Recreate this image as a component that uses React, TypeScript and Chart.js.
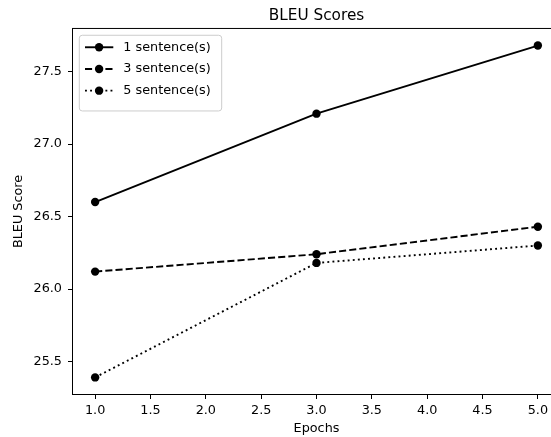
import React, { useEffect, useRef } from "react";
import { Chart, registerables } from "chart.js";

Chart.register(...registerables);

// ---- data ----
const epochs = [1, 3, 5];
const seriesLabels = ["1 sentence(s)", "3 sentence(s)", "5 sentence(s)"];
const oneSentence = [26.6, 27.21, 27.68];
const threeSentences = [26.12, 26.24, 26.43];
const fiveSentences = [25.39, 26.18, 26.3];
const xTicks = [1.0, 1.5, 2.0, 2.5, 3.0, 3.5, 4.0, 4.5, 5.0];
const yTicks = [25.5, 26.0, 26.5, 27.0, 27.5];
const chartTitle = "BLEU Scores";
const xTitle = "Epochs";
const yTitle = "BLEU Score";

const FONT = "DejaVu Sans";
const TICK_SIZE = 12.8;

const allSeries = [oneSentence, threeSentences, fiveSentences];
const dashes: number[][] = [[], [7.1, 3.1], [1.9, 3.2]];

// matplotlib-like 5% margins
const xMinD = Math.min(...epochs), xMaxD = Math.max(...epochs);
const allY = allSeries.flat();
const yMinD = Math.min(...allY), yMaxD = Math.max(...allY);
const xPad = (xMaxD - xMinD) * 0.05;
const yPad = (yMaxD - yMinD) * 0.05;

const framePlugin = {
  id: "mplFrame",
  afterDatasetsDraw(chart: any) {
    const { ctx, chartArea } = chart;
    ctx.save();
    ctx.strokeStyle = "#000";
    ctx.lineWidth = 1;
    ctx.strokeRect(
      chartArea.left - 0.5,
      chartArea.top - 0.5,
      chartArea.right - chartArea.left + 1,
      chartArea.bottom - chartArea.top + 1
    );
    ctx.restore();
  },
};

const legendPlugin = {
  id: "mplLegend",
  afterDraw(chart: any) {
    const { ctx, chartArea } = chart;
    const x0 = chartArea.left + 6.3;
    const y0 = chartArea.top + 6.3;
    const w = 142.4;
    const h = 75.7;
    ctx.save();
    ctx.beginPath();
    ctx.roundRect(x0, y0, w, h, 3);
    ctx.fillStyle = "rgba(255,255,255,0.8)";
    ctx.fill();
    ctx.strokeStyle = "#cccccc";
    ctx.lineWidth = 1;
    ctx.stroke();
    chart.data.datasets.forEach((ds: any, i: number) => {
      const cy = y0 + 12 + i * 21.7;
      ctx.beginPath();
      ctx.setLineDash(ds.borderDash || []);
      ctx.lineCap = "butt";
      ctx.strokeStyle = ds.borderColor;
      ctx.lineWidth = ds.borderWidth;
      ctx.moveTo(x0 + 5.7, cy);
      ctx.lineTo(x0 + 34, cy);
      ctx.stroke();
      ctx.setLineDash([]);
      ctx.beginPath();
      ctx.arc(x0 + 19.8, cy, ds.pointRadius, 0, Math.PI * 2);
      ctx.fillStyle = ds.pointBackgroundColor;
      ctx.fill();
      ctx.fillStyle = "#000";
      ctx.font = `${TICK_SIZE}px '${FONT}'`;
      ctx.textBaseline = "middle";
      ctx.textAlign = "left";
      ctx.fillText(ds.label, x0 + 44, cy);
    });
    ctx.restore();
  },
};

export default function App() {
  const ref = useRef<HTMLCanvasElement | null>(null);

  useEffect(() => {
    if (!ref.current) return;
    Chart.defaults.font.family = FONT;
    const datasets = allSeries.map((vals, i) => ({
      label: seriesLabels[i],
      data: epochs.map((x, j) => ({ x, y: vals[j] })),
      borderColor: "#000",
      backgroundColor: "#000",
      borderWidth: 1.9,
      borderDash: dashes[i],
      borderCapStyle: "butt" as const,
      pointRadius: 4.2,
      pointBackgroundColor: "#000",
      pointBorderWidth: 0,
      pointHoverRadius: 4.2,
      tension: 0,
      fill: false,
    }));

    const chart = new Chart(ref.current, {
      type: "line",
      data: { datasets },
      plugins: [framePlugin, legendPlugin],
      options: {
        responsive: false,
        maintainAspectRatio: false,
        devicePixelRatio: 1,
        animation: false,
        layout: { padding: { left: 0, right: 40, top: 0, bottom: 0 } },
        plugins: {
          legend: { display: false },
          tooltip: { enabled: false },
          title: {
            display: true,
            text: chartTitle,
            fullSize: false,
            color: "#000",
            font: { family: FONT, size: 15.3, weight: "normal" },
            padding: { top: 6.5, bottom: 4.1 },
          },
        },
        scales: {
          x: {
            type: "linear",
            bounds: "data",
            min: xMinD - xPad,
            max: xMaxD + xPad,
            afterBuildTicks: (scale: any) => {
              scale.ticks = xTicks.map((v) => ({ value: v }));
            },
            afterFit: (scale: any) => {
              scale.height = 43;
            },
            ticks: {
              color: "#000",
              font: { family: FONT, size: TICK_SIZE },
              padding: 4.2,
              maxRotation: 0,
              autoSkip: false,
              callback: (v: any) => Number(v).toFixed(1),
            },
            grid: {
              display: true,
              drawOnChartArea: false,
              drawTicks: true,
              tickLength: 5,
              color: "#000",
              lineWidth: 1,
            },
            border: { display: false },
            title: {
              display: true,
              text: xTitle,
              color: "#000",
              font: { family: FONT, size: TICK_SIZE },
              padding: { top: 0, bottom: 1 },
            },
          },
          y: {
            type: "linear",
            bounds: "data",
            min: yMinD - yPad,
            max: yMaxD + yPad,
            afterBuildTicks: (scale: any) => {
              scale.ticks = yTicks.map((v) => ({ value: v }));
            },
            afterFit: (scale: any) => {
              scale.width = 73;
            },
            ticks: {
              color: "#000",
              font: { family: FONT, size: TICK_SIZE },
              padding: 6,
              autoSkip: false,
              callback: (v: any) => Number(v).toFixed(1),
            },
            grid: {
              display: true,
              drawOnChartArea: false,
              drawTicks: true,
              tickLength: 5,
              color: "#000",
              lineWidth: 1,
            },
            border: { display: false },
            title: {
              display: true,
              text: yTitle,
              color: "#000",
              font: { family: FONT, size: TICK_SIZE },
              padding: { top: 10.9, bottom: 0 },
            },
          },
        },
      },
    } as any);
    return () => chart.destroy();
  }, []);

  return (
    <div
      style={{
        position: "fixed",
        left: 0,
        top: 0,
        width: 551,
        height: 437,
        overflow: "hidden",
        background: "#fff",
      }}
    >
      <canvas ref={ref} width={600} height={437} style={{ display: "block" }} />
    </div>
  );
}
